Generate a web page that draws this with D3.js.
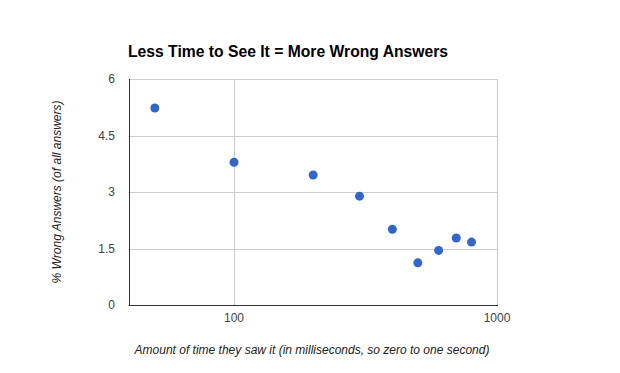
<!DOCTYPE html>
<html>
<head>
<meta charset="utf-8">
<script src="https://d3js.org/d3.v7.min.js"></script>
<style>
  body { margin: 0; background: #fff; }
  svg { display: block; font-family: Arial, "Liberation Sans", sans-serif; }
</style>
</head>
<body>
<div id="chart"></div>
<script>
"use strict";

// milliseconds shown vs % wrong answers
var times = [50, 100, 200, 300, 400, 500, 600, 700, 800];
var wrongPct = [5.23, 3.79, 3.45, 2.89, 2.01, 1.12, 1.45, 1.78, 1.67];
var yTicks = [0, 1.5, 3, 4.5, 6];
var xTicks = [100, 1000];

var width = 620, height = 373;
var margin = {top: 79, left: 128.5, right: 123, bottom: 68};

var svg = d3.select("#chart").append("svg")
    .attr("width", width)
    .attr("height", height);

var x = d3.scaleLog()
    .domain([39.7, 1000])
    .range([margin.left, width - margin.right]);

var y = d3.scaleLinear()
    .domain([0, 6])
    .range([height - margin.bottom, margin.top]);

// title
svg.append("text")
    .attr("x", 128)
    .attr("y", 57)
    .attr("font-size", 15.7)
    .attr("font-weight", "bold")
    .attr("fill", "#000")
    .text("Less Time to See It = More Wrong Answers");

// horizontal gridlines
svg.append("g")
    .selectAll("line")
    .data(yTicks.filter(function (d) { return d > 0; }))
    .enter().append("line")
    .attr("x1", x.range()[0])
    .attr("x2", x.range()[1])
    .attr("y1", function (d) { return Math.round(y(d)) + 0.5; })
    .attr("y2", function (d) { return Math.round(y(d)) + 0.5; })
    .attr("stroke", "#cccccc");

// vertical gridlines
svg.append("g")
    .selectAll("line")
    .data(xTicks)
    .enter().append("line")
    .attr("x1", function (d) { return Math.round(x(d)) + 0.5; })
    .attr("x2", function (d) { return Math.round(x(d)) + 0.5; })
    .attr("y1", y.range()[1])
    .attr("y2", y.range()[0])
    .attr("stroke", "#cccccc");

// axes baselines
svg.append("line")
    .attr("x1", Math.round(x.range()[0]) + 0.5)
    .attr("x2", Math.round(x.range()[0]) + 0.5)
    .attr("y1", y.range()[1])
    .attr("y2", y.range()[0] + 0.5)
    .attr("stroke", "#333333");

svg.append("line")
    .attr("x1", x.range()[0])
    .attr("x2", x.range()[1] + 1)
    .attr("y1", Math.round(y(0)) + 0.5)
    .attr("y2", Math.round(y(0)) + 0.5)
    .attr("stroke", "#333333");

// tick labels
svg.append("g")
    .selectAll("text")
    .data(yTicks)
    .enter().append("text")
    .attr("x", 115)
    .attr("y", function (d) { return y(d); })
    .attr("dy", "0.35em")
    .attr("text-anchor", "end")
    .attr("font-size", 12)
    .attr("fill", "#444")
    .text(function (d) { return d; });

svg.append("g")
    .selectAll("text")
    .data(xTicks)
    .enter().append("text")
    .attr("x", function (d) { return x(d); })
    .attr("y", 322)
    .attr("text-anchor", "middle")
    .attr("font-size", 12)
    .attr("fill", "#444")
    .text(function (d) { return d; });

// axis titles
svg.append("text")
    .attr("x", 312)
    .attr("y", 354)
    .attr("text-anchor", "middle")
    .attr("font-size", 12)
    .attr("font-style", "italic")
    .attr("fill", "#222")
    .text("Amount of time they saw it (in milliseconds, so zero to one second)");

svg.append("text")
    .attr("transform", "translate(61,192) rotate(-90)")
    .attr("text-anchor", "middle")
    .attr("font-size", 12)
    .attr("font-style", "italic")
    .attr("fill", "#222")
    .text("% Wrong Answers (of all answers)");

// points
svg.append("g")
    .selectAll("circle")
    .data(times)
    .enter().append("circle")
    .attr("cx", function (d) { return x(d); })
    .attr("cy", function (d, i) { return y(wrongPct[i]); })
    .attr("r", 4.5)
    .attr("fill", "#3366cc");
</script>
</body>
</html>
